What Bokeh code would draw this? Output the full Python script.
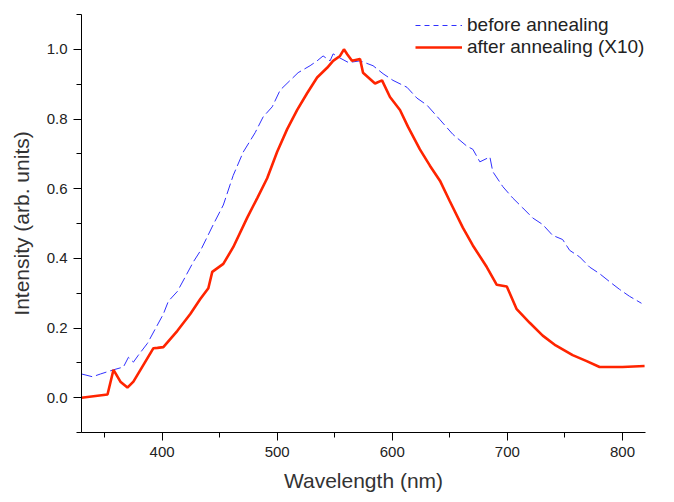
from bokeh.plotting import figure
from bokeh.models import Range1d, SingleIntervalTicker, Legend, LegendItem, NumeralTickFormatter
from bokeh.embed import file_html
from bokeh.resources import INLINE

# before annealing (blue dashed)
before_wl = [330, 339.6, 346.5, 357.8, 366.4, 370.8, 375.1, 379.4, 387.3, 394.2,
             401.1, 405.5, 413.3, 420.2, 427.2, 433.2, 444.5, 453.2, 461.8, 470.5,
             480.9, 487.8, 495.7, 502.6, 511.3, 518.2, 528.6, 534.7, 539.9, 546.0,
             548.6, 554.6, 562.0, 572.0, 583.3, 592.0, 600.6, 612.8, 621.4, 630.1,
             641.4, 652.6, 664.8, 670.0, 676.1, 684.8, 687.3, 696.0, 704.7, 713.3,
             722.0, 730.7, 739.3, 748.0, 754.1, 762.8, 771.4, 780.1, 788.8, 797.4,
             806.1, 816.5]
before_int = [0.068, 0.060, 0.068, 0.080, 0.088, 0.116, 0.102, 0.122, 0.156, 0.198,
              0.240, 0.277, 0.305, 0.347, 0.390, 0.421, 0.497, 0.553, 0.638, 0.705,
              0.761, 0.806, 0.835, 0.883, 0.911, 0.933, 0.953, 0.967, 0.981, 0.967,
              0.987, 0.975, 0.962, 0.967, 0.953, 0.930, 0.911, 0.891, 0.860, 0.840,
              0.798, 0.756, 0.722, 0.713, 0.677, 0.691, 0.649, 0.606, 0.573, 0.545,
              0.516, 0.497, 0.466, 0.454, 0.423, 0.404, 0.375, 0.356, 0.333, 0.311,
              0.291, 0.271]

# after annealing (X10) (red solid)
after_wl = [330, 352.6, 357.8, 363.8, 369.9, 375.1, 383.8, 392.5, 396.0, 401.1,
            413.3, 424.5, 433.2, 440.2, 443.6, 453.2, 461.8, 474.0, 482.7, 491.3,
            500.0, 508.7, 517.4, 526.0, 534.7, 543.4, 548.6, 554.6, 558.0, 561.0,
            565.0, 572.0, 574.6, 585.0, 591.1, 598.0, 606.7, 613.6, 624.0, 632.7,
            641.4, 650.0, 661.3, 670.0, 682.1, 690.8, 699.5, 708.1, 719.4, 730.7,
            742.0, 756.7, 768.9, 780.1, 800.0, 819.2]
after_int = [0.000, 0.009, 0.080, 0.046, 0.029, 0.046, 0.094, 0.142, 0.143, 0.145,
             0.192, 0.240, 0.283, 0.314, 0.361, 0.384, 0.432, 0.517, 0.573, 0.630,
             0.706, 0.771, 0.826, 0.874, 0.919, 0.947, 0.967, 0.981, 1.000, 0.985,
             0.967, 0.972, 0.933, 0.902, 0.911, 0.863, 0.826, 0.778, 0.713, 0.666,
             0.623, 0.564, 0.488, 0.437, 0.375, 0.324, 0.319, 0.254, 0.215, 0.178,
             0.150, 0.122, 0.105, 0.088, 0.088, 0.091]

labels = ["before annealing", "after annealing (X10)"]

FONT = "Liberation Sans"
BLUE = "#3030ff"
RED = "#ff2400"
NAN = float("nan")

p = figure(width=666, height=494, output_backend="svg", toolbar_location=None,
           x_range=Range1d(330, 820), y_range=Range1d(-0.1, 1.1),
           min_border_left=81, min_border_top=14, min_border_right=21,
           min_border_bottom=56)
p.outline_line_color = None
p.grid.visible = False
p.background_fill_color = "white"

r_before = p.line(before_wl, before_int, line_color=BLUE, line_width=1,
                  line_dash="11 4")
r_after = p.line(after_wl, after_int, line_color=RED, line_width=2.6)

# legend-only samples (shorter dash pattern as in the reference key)
lg_before = p.line([NAN], [NAN], line_color=BLUE, line_width=1, line_dash="5 4")
lg_after = p.line([NAN], [NAN], line_color=RED, line_width=2.6)

p.xaxis.ticker = SingleIntervalTicker(interval=100, num_minor_ticks=2)
p.yaxis.ticker = SingleIntervalTicker(interval=0.2, num_minor_ticks=2)
p.yaxis.formatter = NumeralTickFormatter(format="0.0")

for ax in (p.xaxis, p.yaxis):
    ax.axis_line_color = "black"
    ax.major_tick_line_color = "black"
    ax.minor_tick_line_color = "black"
    ax.major_tick_in = 0
    ax.minor_tick_in = 0
    ax.major_tick_out = 8
    ax.minor_tick_out = 5
    ax.major_label_text_font = FONT
    ax.major_label_text_font_size = "15px"
    ax.major_label_text_color = "#222222"
    ax.axis_label_text_font = FONT
    ax.axis_label_text_font_size = "21px"
    ax.axis_label_text_font_style = "normal"
    ax.axis_label_text_color = "#333333"

p.xaxis.axis_label = "Wavelength (nm)"
p.yaxis.axis_label = "Intensity (arb. units)"
p.xaxis.major_label_standoff = 6
p.xaxis.axis_label_standoff = 9
p.yaxis.major_label_standoff = 6
p.yaxis.axis_label_standoff = 11

legend = Legend(items=[LegendItem(label=labels[0], renderers=[lg_before]),
                       LegendItem(label=labels[1], renderers=[lg_after])],
                location=(334, 374), orientation="vertical",
                border_line_color=None, background_fill_alpha=0,
                padding=0, margin=0, spacing=0,
                glyph_width=47, glyph_height=20, label_height=20,
                label_standoff=5,
                label_text_font=FONT, label_text_font_size="19px",
                label_text_color="#222222")
p.add_layout(legend)

open("out.html", "w").write(file_html(p, INLINE))
